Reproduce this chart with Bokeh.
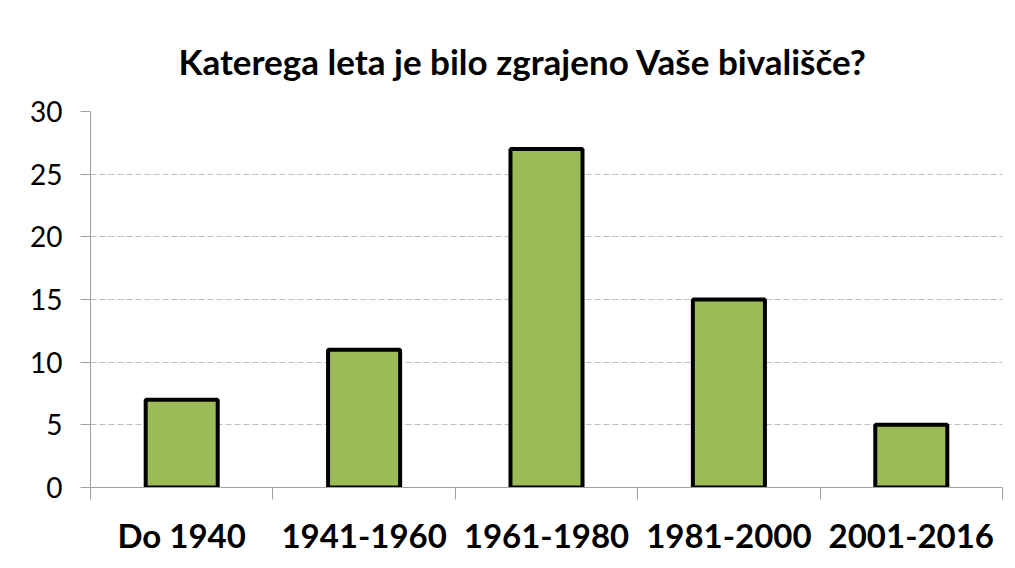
from bokeh.plotting import figure
from bokeh.models import Range1d, FixedTicker, ColumnDataSource
from bokeh.embed import file_html
from bokeh.resources import INLINE

categories = ["Do 1940", "1941-1960", "1961-1980", "1981-2000", "2001-2016"]
values = [7, 11, 27, 15, 5]
y_ticks = [0, 5, 10, 15, 20, 25, 30]
title_text = "Katerega leta je bilo zgrajeno Vaše bivališče?"

positions = [i + 0.5 for i in range(len(categories))]
src = ColumnDataSource(dict(x=positions, top=values, cat=categories))

p = figure(width=1007, height=560, output_backend="svg", toolbar_location=None,
           x_range=Range1d(0, len(categories)), y_range=Range1d(0, 30),
           min_border_left=90, min_border_right=5, min_border_top=111, min_border_bottom=73)
p.outline_line_color = None
p.background_fill_color = "white"
p.border_fill_color = "white"

p.title.text = title_text
p.title.text_font = "Lato"
p.title.text_font_size = "35px"
p.title.text_font_style = "bold"
p.title.text_color = "#000000"
p.title.align = "left"
p.title.offset = 88
p.title.standoff = 60

p.vbar(x="x", top="top", width=0.395, source=src, fill_color="#9BBB59",
       line_color="#000000", line_width=4)

# x axis
p.xaxis.ticker = FixedTicker(ticks=positions, minor_ticks=list(range(len(categories) + 1)))
p.xaxis.major_label_overrides = {pos: c for pos, c in zip(positions, categories)}
p.xaxis.major_tick_out = 0
p.xaxis.major_tick_in = 0
p.xaxis.minor_tick_out = 12
p.xaxis.minor_tick_in = 0
p.xaxis.minor_tick_line_color = "#a0a0a0"
p.xaxis.axis_line_color = "#a0a0a0"
p.xaxis.major_label_text_font = "Lato"
p.xaxis.major_label_text_font_size = "33px"
p.xaxis.major_label_text_font_style = "bold"
p.xaxis.major_label_text_color = "#000000"
p.xaxis.major_label_standoff = 15

# y axis
p.yaxis.ticker = FixedTicker(ticks=y_ticks)
p.yaxis.axis_line_color = "#a0a0a0"
p.yaxis.major_tick_line_color = "#a0a0a0"
p.yaxis.major_tick_out = 10
p.yaxis.major_tick_in = 0
p.yaxis.minor_tick_line_color = None
p.yaxis.major_label_text_font = "Lato"
p.yaxis.major_label_text_font_size = "28px"
p.yaxis.major_label_text_color = "#000000"
p.yaxis.major_label_standoff = 18

p.xgrid.grid_line_color = None
p.ygrid.grid_line_color = "#c0c0c0"
p.ygrid.grid_line_dash = "6 3"
p.ygrid.ticker = FixedTicker(ticks=y_ticks[1:])

open("out.html", "w").write(file_html(p, INLINE))
